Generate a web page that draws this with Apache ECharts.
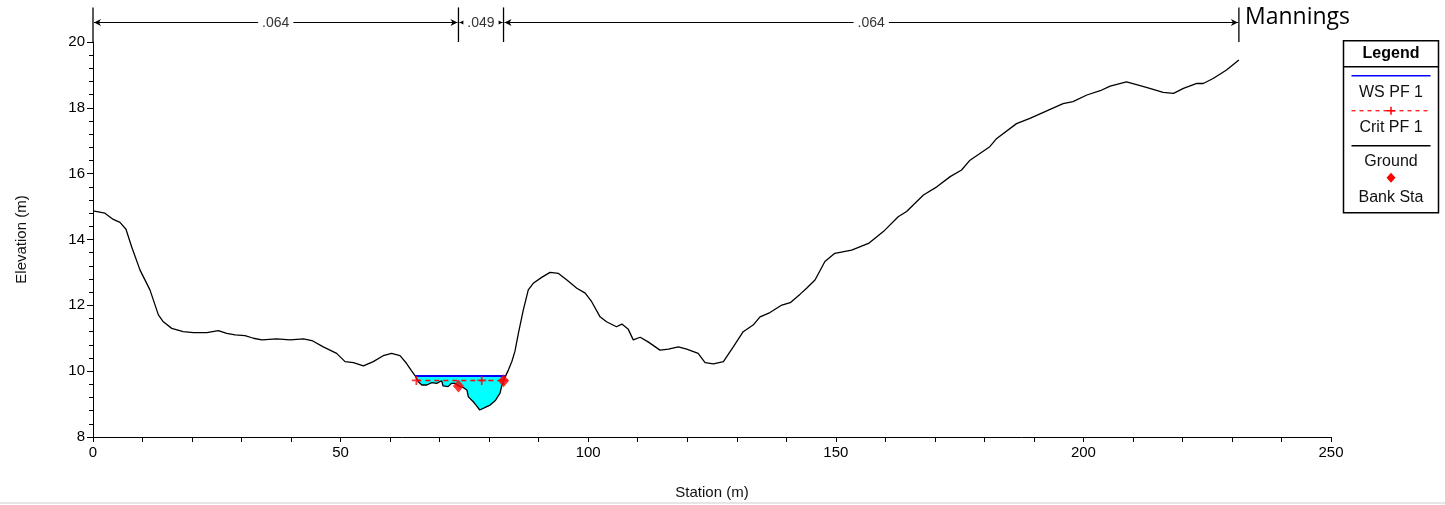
<!DOCTYPE html>
<html>
<head>
<meta charset="utf-8">
<script src="https://cdn.jsdelivr.net/npm/echarts@6/dist/echarts.min.js"></script>
<style>
html,body{margin:0;padding:0;background:#fff;}
#chart{width:1445px;height:505px;}
</style>
</head>
<body>
<div id="chart"></div>
<script>
// ---- Data ----
const groundStation = [0,2.4,4.1,5.45,6.66,7.8,9.5,11.5,13.2,14.2,15.9,18.2,20.3,23.0,25.3,27.0,28.7,30.7,32.4,34.1,37.1,39.8,42.5,44.2,46.5,49.2,50.9,52.6,54.6,56.6,58.6,60.3,62.0,63.3,64.3,65.1,65.7,66.4,67.4,68.4,69.4,70.4,70.7,71.7,72.4,73.1,73.8,74.8,75.5,75.8,76.8,77.5,78.1,79.2,80.2,81.2,82.2,82.5,82.9,83.4,83.9,84.6,85.2,85.9,86.9,87.9,88.9,90.6,92.3,94.0,95.7,97.7,99.4,100.7,102.4,103.7,105.7,106.8,108.1,109.1,110.5,112.1,114.5,116.2,118.2,119.9,122.2,123.6,125.3,127.3,129.3,131.3,133.3,134.7,136.7,139.1,140.8,142.8,144.1,145.8,147.8,149.8,153.2,156.6,159.6,162.6,164.3,167.7,170.4,173.1,175.4,177.1,181.1,182.5,186.5,189.2,192.6,195.9,197.9,200.7,203.4,205.4,208.7,211.1,213.4,216.1,218.2,220.2,222.9,224.2,226.2,228.9,231.4];
const groundElev = [14.87,14.80,14.61,14.52,14.31,13.78,13.07,12.47,11.71,11.50,11.30,11.20,11.17,11.17,11.23,11.15,11.10,11.08,11.00,10.95,10.98,10.95,10.98,10.93,10.74,10.54,10.29,10.26,10.16,10.29,10.47,10.54,10.47,10.24,10.02,9.85,9.68,9.58,9.58,9.65,9.63,9.71,9.55,9.53,9.63,9.63,9.55,9.50,9.43,9.22,9.07,8.94,8.82,8.90,8.97,9.10,9.33,9.53,9.71,9.88,10.04,10.30,10.60,11.15,11.86,12.47,12.67,12.85,13.00,12.97,12.77,12.52,12.37,12.11,11.65,11.50,11.35,11.43,11.27,10.95,11.03,10.89,10.64,10.67,10.74,10.67,10.54,10.26,10.22,10.29,10.74,11.20,11.40,11.65,11.78,12.01,12.08,12.34,12.52,12.77,13.33,13.58,13.68,13.88,14.24,14.69,14.85,15.35,15.60,15.91,16.11,16.41,16.82,17.07,17.52,17.68,17.91,18.13,18.19,18.39,18.52,18.66,18.79,18.69,18.59,18.47,18.44,18.59,18.74,18.74,18.89,19.15,19.45];

const wsElev = 9.85;                 // WS PF 1
const wsStations = [65.1, 83.3];     // water surface extent
const critElev = 9.72;               // Crit PF 1
const critStations = [65.3, 82.9];
const critMarkStations = [65.3, 78.5, 82.9];
const bankStation = [73.8, 82.9];
const bankElev = [9.55, 9.71];

const manningStations = [0, 73.8, 82.9, 231.4];
const manningValues = ['.064', '.049', '.064'];

const xTicks = [0, 50, 100, 150, 200, 250];
const yTicks = [8, 10, 12, 14, 16, 18, 20];
const legendNames = ['WS PF 1', 'Crit PF 1', 'Ground', 'Bank Sta'];

// ---- Build series data ----
const groundData = groundStation.map((s, i) => [s, groundElev[i]]);
const channelGround = groundData.filter(p => p[0] >= wsStations[0] && p[0] <= wsStations[1] + 0.15);
const wsData = wsStations.map(s => [s, wsElev]);
const critData = critStations.map(s => [s, critElev]);
const critMarks = critMarkStations.map(s => [s, critElev]);
const bankData = bankStation.map((s, i) => [s, bankElev[i]]);
const manningSegs = manningValues.map((v, i) => [manningStations[i], manningStations[i + 1], i]);

const FONT = '"Liberation Sans", Arial, sans-serif';
const MANN_Y = 20.6, MANN_TOP = 21.05, MANN_BOT = 20.0;
const plusPath = 'path://M4,0h2v4h4v2h-4v4h-2v-4h-4v-2h4z';

const chart = echarts.init(document.getElementById('chart'), null, {renderer: 'canvas'});

const option = {
  animation: false,
  backgroundColor: '#fff',
  grid: {left: 93, right: 114, top: 42, bottom: 68, containLabel: false},
  xAxis: {
    type: 'value', min: xTicks[0], max: xTicks[xTicks.length - 1], interval: 50,
    name: 'Station (m)', nameLocation: 'middle', nameGap: 48,
    nameTextStyle: {fontFamily: FONT, fontSize: 15, color: '#111'},
    axisLine: {show: true, onZero: false, lineStyle: {color: '#000', width: 1}},
    axisTick: {show: true, length: 5, lineStyle: {color: '#000'}},
    minorTick: {show: true, splitNumber: 5, length: 5, lineStyle: {color: '#000'}},
    axisLabel: {fontFamily: FONT, fontSize: 15, color: '#000', margin: 8},
    splitLine: {show: false}
  },
  yAxis: {
    type: 'value', min: yTicks[0], max: yTicks[yTicks.length - 1], interval: 2,
    name: 'Elevation (m)', nameLocation: 'middle', nameGap: 64, nameRotate: 90,
    nameTextStyle: {fontFamily: FONT, fontSize: 15, color: '#111'},
    axisLine: {show: true, onZero: false, lineStyle: {color: '#000', width: 1}},
    axisTick: {show: true, length: 6, lineStyle: {color: '#000'}},
    minorTick: {show: true, splitNumber: 5, length: 4, lineStyle: {color: '#000'}},
    axisLabel: {fontFamily: FONT, fontSize: 15, color: '#000', margin: 8},
    splitLine: {show: false}
  },
  series: [
    {
      name: 'Water', type: 'custom', z: 1, clip: false, silent: true,
      data: [0],
      renderItem: function (params, api) {
        const pts = [];
        pts.push(api.coord([wsStations[0], wsElev]));
        pts.push(api.coord([wsStations[1], wsElev]));
        for (let i = channelGround.length - 1; i >= 0; i--) {
          pts.push(api.coord(channelGround[i]));
        }
        return {type: 'polygon', shape: {points: pts}, style: {fill: '#00FFFF'}};
      }
    },
    {
      name: 'Ground', type: 'line', z: 3, data: groundData, symbol: 'none',
      lineStyle: {color: '#000', width: 1.3}
    },
    {
      name: 'WS PF 1', type: 'line', z: 4, data: wsData, symbol: 'none',
      lineStyle: {color: '#0000FF', width: 2}
    },
    {
      name: 'Crit PF 1', type: 'line', z: 5, data: critData, symbol: 'none',
      lineStyle: {color: '#FF0000', width: 1.5, type: [5, 4]}
    },
    {
      name: 'Crit marks', type: 'scatter', z: 5, data: critMarks, symbol: plusPath,
      symbolSize: 9, itemStyle: {color: '#FF0000'}
    },
    {
      name: 'Bank Sta', type: 'scatter', z: 6, data: bankData, symbol: 'diamond',
      symbolSize: [11, 13], itemStyle: {color: '#FF0000'}
    },
    {
      name: 'Manning bounds', type: 'custom', z: 7, clip: false, silent: true,
      data: manningStations,
      renderItem: function (params, api) {
        const x = api.value(0);
        const a = api.coord([x, MANN_TOP]);
        const b = api.coord([x, MANN_BOT]);
        return {type: 'line', shape: {x1: a[0], y1: a[1], x2: b[0], y2: b[1]},
                style: {stroke: '#000', lineWidth: 1.3}};
      }
    },
    {
      name: 'Manning n', type: 'custom', z: 8, clip: false, silent: true,
      data: manningSegs,
      renderItem: function (params, api) {
        const x0 = api.value(0), x1 = api.value(1), idx = api.value(2);
        const p0 = api.coord([x0, MANN_Y]);
        const p1 = api.coord([x1, MANN_Y]);
        const y = Math.round(p0[1]) + 0.5;
        const l = p0[0] + 1, r = p1[0] - 1;
        return {
          type: 'group',
          children: [
            {type: 'line', shape: {x1: l, y1: y, x2: r, y2: y}, style: {stroke: '#000', lineWidth: 1}},
            {type: 'polygon', shape: {points: [[l, y], [l + 7, y - 3.5], [l + 5, y], [l + 7, y + 3.5]]}, style: {fill: '#000'}},
            {type: 'polygon', shape: {points: [[r, y], [r - 7, y - 3.5], [r - 5, y], [r - 7, y + 3.5]]}, style: {fill: '#000'}},
            {type: 'text', z2: 10, style: {
              text: manningValues[idx], x: (p0[0] + p1[0]) / 2, y: y + 1,
              align: 'center', verticalAlign: 'middle',
              font: '14px ' + FONT, fill: '#333',
              backgroundColor: '#fff', padding: [1, 4]
            }}
          ]
        };
      }
    }
  ],
  graphic: [
    {
      type: 'text', left: 1245, top: 6, z: 20,
      style: {text: 'Mannings', font: '23px "Open Sans", Lato, sans-serif', fill: '#000'}
    },
    {
      type: 'rect', left: 0, top: 502, z: 0, silent: true,
      shape: {width: 1445, height: 2}, style: {fill: '#e6e6e6'}
    },
    {
      type: 'group', left: 1341, top: 40, z: 20,
      children: [
        {type: 'rect', shape: {x: 0, y: 0, width: 95, height: 172}, style: {fill: '#fff', stroke: '#000', lineWidth: 1.5}},
        {type: 'line', shape: {x1: 0, y1: 26, x2: 95, y2: 26}, style: {stroke: '#000', lineWidth: 1.5}},
        {type: 'text', style: {text: 'Legend', x: 47.5, y: 13, align: 'center', verticalAlign: 'middle', font: 'bold 16px ' + FONT, fill: '#000'}},
        {type: 'line', shape: {x1: 8, y1: 35, x2: 87, y2: 35}, style: {stroke: '#0000FF', lineWidth: 1.5}},
        {type: 'text', style: {text: legendNames[0], x: 47.5, y: 52, align: 'center', verticalAlign: 'middle', font: '16px ' + FONT, fill: '#111'}},
        {type: 'line', shape: {x1: 8, y1: 70, x2: 87, y2: 70}, style: {stroke: '#FF0000', lineWidth: 1.2, lineDash: [4, 4]}},
        {type: 'line', shape: {x1: 47.5, y1: 66, x2: 47.5, y2: 74}, style: {stroke: '#FF0000', lineWidth: 1.5}},
        {type: 'line', shape: {x1: 43.5, y1: 70, x2: 51.5, y2: 70}, style: {stroke: '#FF0000', lineWidth: 1.5}},
        {type: 'text', style: {text: legendNames[1], x: 47.5, y: 87, align: 'center', verticalAlign: 'middle', font: '16px ' + FONT, fill: '#111'}},
        {type: 'line', shape: {x1: 8, y1: 105, x2: 87, y2: 105}, style: {stroke: '#000', lineWidth: 1.5}},
        {type: 'text', style: {text: legendNames[2], x: 47.5, y: 121, align: 'center', verticalAlign: 'middle', font: '16px ' + FONT, fill: '#111'}},
        {type: 'polygon', shape: {points: [[47.5, 132], [52, 137], [47.5, 142], [43, 137]]}, style: {fill: '#FF0000'}},
        {type: 'text', style: {text: legendNames[3], x: 47.5, y: 157, align: 'center', verticalAlign: 'middle', font: '16px ' + FONT, fill: '#111'}}
      ]
    }
  ]
};
chart.setOption(option);
</script>
</body>
</html>
